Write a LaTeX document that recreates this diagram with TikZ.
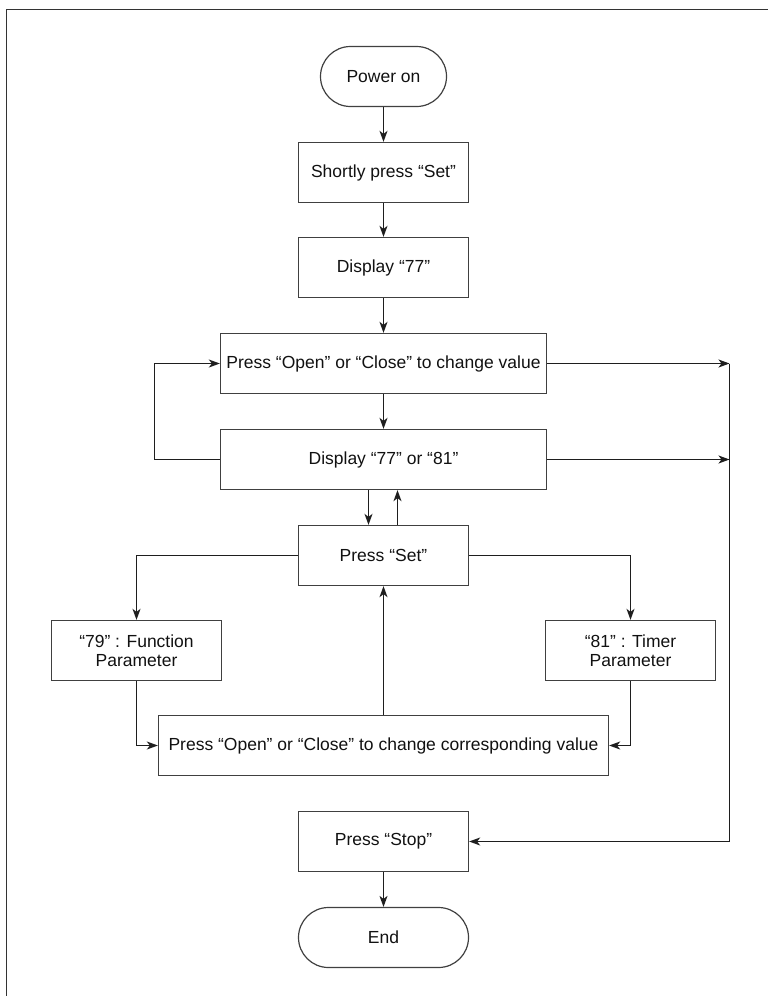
\documentclass[tikz,border=0pt]{standalone}
\usepackage{fontspec}
\setmainfont{Liberation Sans}
\usetikzlibrary{arrows.meta}
\definecolor{boxline}{HTML}{404040}
\definecolor{conline}{HTML}{1e1e1e}
\definecolor{txt}{HTML}{111111}
\begin{document}
\begin{tikzpicture}[x=1pt,y=-1pt,
  every node/.style={font=\fontsize{17.5}{18.5}\selectfont, text=txt, inner sep=0pt, align=center},
  box/.style={draw=boxline, line width=1.3pt, minimum height=60pt},
  term/.style={draw=boxline, line width=1.2pt, minimum height=60pt, rounded corners=30pt},
  conn/.style={draw=conline, line width=1.3pt, -{Stealth[length=11pt,width=8pt,inset=3pt]}},
  frameline/.style={draw=black!80, line width=1.3pt}
]
\useasboundingbox (0,0) rectangle (768,996);
\draw[frameline] (6.5,996) -- (6.5,9.5) -- (768,9.5);

\node[term, minimum width=126pt] (pow) at (383.5,76.5) {Power on};
\node[box, minimum width=170pt] (sps) at (383.5,172.5) {Shortly press “Set”};
\node[box, minimum width=170pt] (d77) at (383.5,267.5) {Display “77”};
\node[box, minimum width=326pt] (poc) at (383.5,363.5) {Press “Open” or “Close” to change value};
\node[box, minimum width=326pt] (d81) at (383.5,459.5) {Display “77” or “81”};
\node[box, minimum width=170pt] (set) at (383.5,555.5) {Press “Set”};
\node[box, minimum width=170pt] (fun) at (136.5,650.5) {“79” : Function\\Parameter};
\node[box, minimum width=170pt] (tim) at (630.5,650.5) {“81” : Timer\\Parameter};
\node[box, minimum width=450pt] (cor) at (383.5,745.5) {Press “Open” or “Close” to change corresponding value};
\node[box, minimum width=170pt] (stp) at (383.5,841.5) {Press “Stop”};
\node[term, minimum width=170pt] (end) at (383.5,937.5) {End};

\coordinate (lp) at (154.5,459.5);
\coordinate (ra) at (729.5,363.5);
\coordinate (rb) at (729.5,459.5);
\coordinate (rc) at (729.5,841.5);

\draw[conn] (pow) -- (sps);
\draw[conn] (sps) -- (d77);
\draw[conn] (d77) -- (poc);
\draw[conn] (poc) -- (d81);
\draw[conn] (d81.west) -- (lp) |- (poc.west);
\draw[conn] (poc.east) -- (ra);
\draw[conn] (d81.east) -- (rb);
\draw[conn] (ra) -- (rc) -- (stp.east);
\draw[conn] ([xshift=-15pt]d81.south) -- ([xshift=-15pt]set.north);
\draw[conn] ([xshift=14pt]set.north) -- ([xshift=14pt]d81.south);
\draw[conn] (set.west) -| (fun.north);
\draw[conn] (set.east) -| (tim.north);
\draw[conn] (fun.south) |- (cor.west);
\draw[conn] (tim.south) |- (cor.east);
\draw[conn] (cor.north) -- (set.south);
\draw[conn] (stp) -- (end);
\end{tikzpicture}
\end{document}
